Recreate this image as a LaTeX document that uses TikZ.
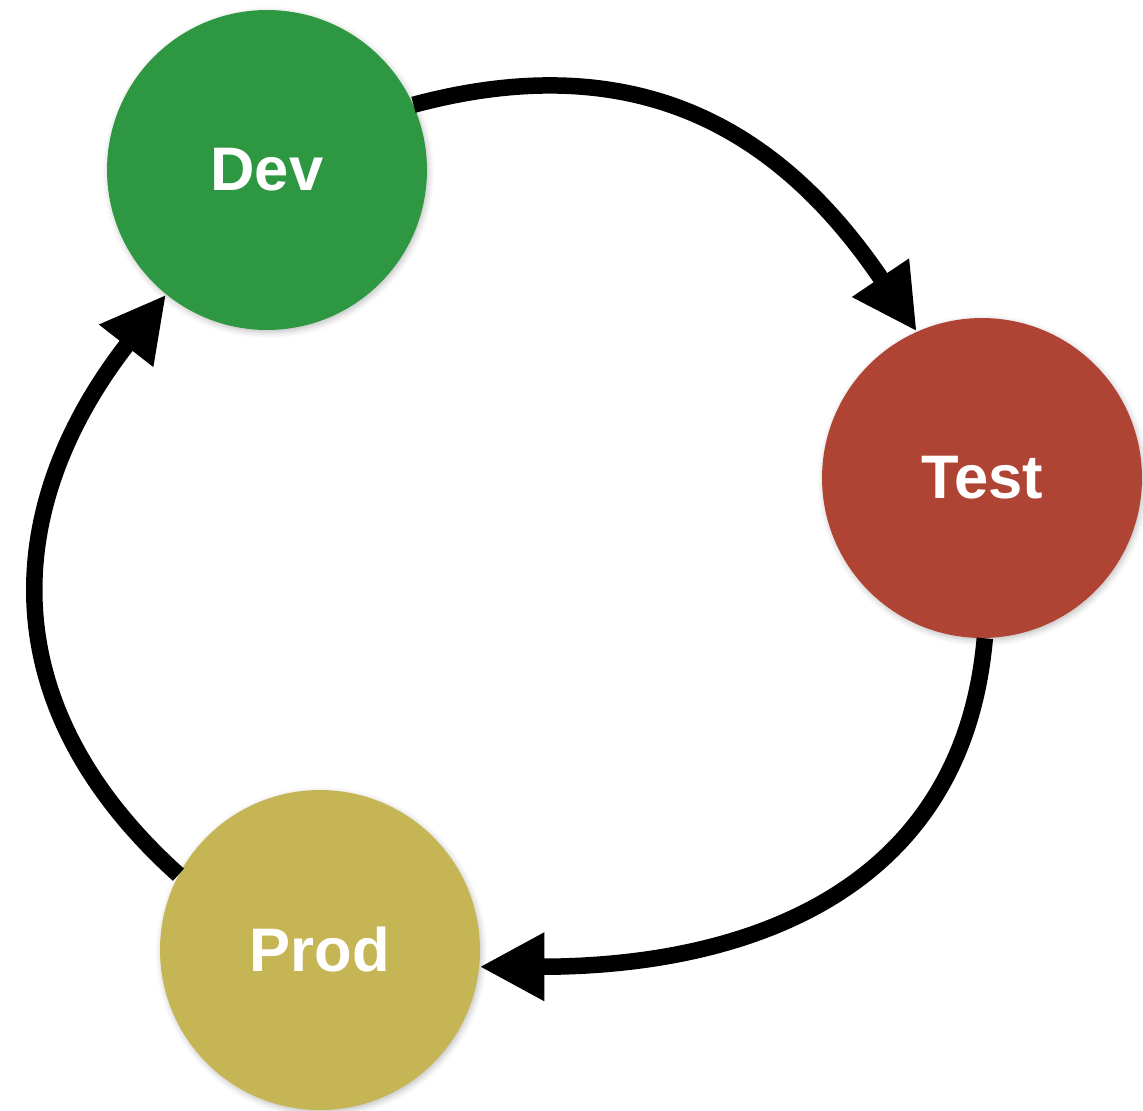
\documentclass[tikz,border=0pt]{standalone}
\usepackage{fontspec}
\setmainfont{Liberation Sans}
\usetikzlibrary{arrows.meta,shadows.blur}

\definecolor{devgreen}{RGB}{46,151,66}
\definecolor{testred}{RGB}{176,68,52}
\definecolor{prodolive}{RGB}{198,181,84}

\begin{document}
\begin{tikzpicture}[
    x=0.02cm, y=-0.02cm,
    stage/.style={circle, minimum size=6.4cm, inner sep=0pt,
      text=white, font=\fontsize{35}{40}\selectfont\bfseries,
      blur shadow={shadow xshift=0.03cm, shadow yshift=-0.05cm,
        shadow blur radius=0.12cm, shadow opacity=25}},
    flow/.style={line width=0.33cm, -{Triangle[length=1.3cm, width=1.28cm]}},
  ]
  \useasboundingbox (0,0) rectangle (1143,1111);
  \node[stage, fill=devgreen] (dev) at (267,170) {Dev};
  \node[stage, fill=testred] (test) at (982,478) {Test};
  \node[stage, fill=prodolive] (prod) at (320,950) {Prod};
  \draw[flow] (dev.24) to[out=15, in=124, looseness=1.1] (test.114);
  \draw[flow] (test.-89) to[out=-95, in=0, looseness=1.1] (prod.-6);
  \draw[flow] (prod.152) to[out=138, in=-128, looseness=1.15] (dev.231);
\end{tikzpicture}
\end{document}
